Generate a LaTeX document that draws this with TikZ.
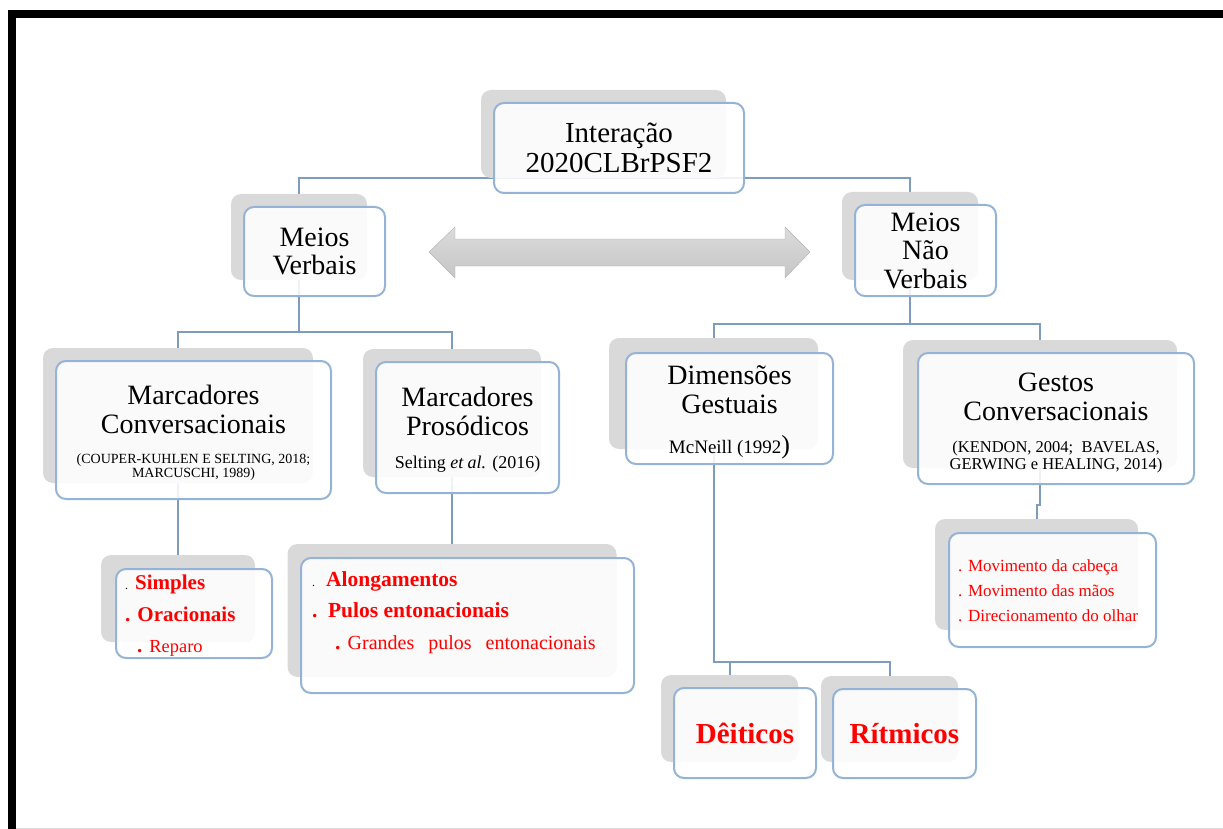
\documentclass[tikz,border=0pt]{standalone}
\usepackage{fontspec}
\setmainfont{Liberation Serif}
\usetikzlibrary{backgrounds}
\definecolor{shadegray}{HTML}{D9D9D9}
\definecolor{boxline}{HTML}{95B3D7}
\definecolor{linkline}{HTML}{7D9CBE}

\newcommand{\fs}[2]{\fontsize{#1}{#2}\selectfont}

\tikzset{
  backcard/.style={fill=shadegray, rounded corners=10pt, inner sep=0pt},
  card/.style={draw=boxline, line width=2pt, rounded corners=10pt, fill=white,
    fill opacity=0.87, text opacity=1, align=center, inner sep=0pt},
  cardtext/.style={align=center, inner sep=0pt},
  link/.style={draw=linkline, line width=2pt},
  item/.style={anchor=base west, inner sep=0pt, text=red},
}

\begin{document}
\begin{tikzpicture}[x=1pt, y=-1pt]
  \useasboundingbox (0,0) rectangle (1223,829);

  % black frame, top and left
  \fill[black] (8,10) rectangle (1223,18);
  \fill[black] (8,10) rectangle (16,829);
  \draw[gray!30] (16,828) -- (1223,828);

  % gray cards behind every box
  \foreach \name/\cx/\cy/\w/\h in {inter/603.5/134/245/88, verb/299/237/136/86,
      naov/910/236/136/88, mconv/178/415.5/270/135, mpros/452/413/178/128,
      dim/713.5/393.5/209/111, gest/1040/404/274/128, sim/178/598.5/154/87,
      along/452/610.5/329/133, dei/729.5/718.5/137/87, rit/889.5/719/137/86,
      mov/1036.5/574.5/203/111} {
    \node[backcard, minimum width=\w pt, minimum height=\h pt] (\name-sh) at (\cx,\cy) {};
  }

  % tree lines
  \begin{scope}[on background layer]
    \draw[link] (verb-sh.north) |- (inter-sh.south) -| (naov-sh.north);
    \draw[link] (verb-sh.south) -- ++(0,52) -| (mconv-sh.north);
    \draw[link] (verb-sh.south) -- ++(0,52) -| (mpros-sh.north);
    \draw[link] (naov-sh.south) -- ++(0,44) -| (dim-sh.north);
    \draw[link] (naov-sh.south) -- ++(0,44) -| (gest-sh.north);
    \draw[link] (mconv-sh.south) -- (sim-sh.north);
    \draw[link] (mpros-sh.south) -- (along-sh.north);
    \draw[link] (gest-sh.south) -- ++(0,37) -| (mov-sh.north);
    \draw[link] (dim-sh.south) -- ++(0,213) -| (rit-sh.north);
    \draw[link] (dim-sh.south) -- ++(0,213) -| (dei-sh.north);
  \end{scope}

  % double arrow between the two sides
  \path[draw=gray!60, top color=gray!28, bottom color=gray!45]
    (429,252) -- (455,227) -- (455,239) -- (785,239) -- (785,227) -- (810,252)
    -- (785,278) -- (785,266) -- (455,266) -- (455,278) -- cycle;

  % boxes
  \node[card, minimum width=250pt, minimum height=90pt, font=\fs{29}{30}] (inter) at (619,148) {Interação\\2020CLBrPSF2};
  \node[card, minimum width=141pt, minimum height=89pt, font=\fs{28}{28.5}] (verb) at (314.5,251.5) {Meios\\Verbais};
  \node[card, minimum width=141pt, minimum height=91pt, font=\fs{28}{28.5}] (naov) at (925.5,250.5) {Meios\\Não\\Verbais};

  \node[card, minimum width=275pt, minimum height=138pt] (mconv) at (193.5,430) {};
  \node[card, minimum width=183pt, minimum height=131pt] (mpros) at (467.5,427.5) {};
  \node[card, minimum width=207pt, minimum height=111pt] (dim) at (729.5,408.5) {};
  \node[card, minimum width=276pt, minimum height=131pt] (gest) at (1056,418.5) {};

  \node[card, minimum width=156pt, minimum height=89pt] (sim) at (194,613.5) {};
  \node[card, minimum width=333pt, minimum height=135pt] (along) at (467.5,625.5) {};
  \node[card, minimum width=207pt, minimum height=114pt] (mov) at (1052.5,590) {};
  \node[card, minimum width=142pt, minimum height=90pt, font=\fs{29}{30}\bfseries, text=red] (dei) at (745,733) {Dêiticos};
  \node[card, minimum width=143pt, minimum height=89pt, font=\fs{29}{30}\bfseries, text=red] (rit) at (904.5,733.5) {Rítmicos};

  % titles with their references
  \node[cardtext, font=\fs{28}{29}] (mconv-t) at (193.5,433)
    {Marcadores\\Conversacionais\\[1pt]{\fs{14}{13.3}\begin{tabular}[t]{@{}c@{}}(COUPER-KUHLEN E SELTING, 2018;\\MARCUSCHI, 1989)\end{tabular}}};
  \node[cardtext, font=\fs{28}{29}] (mpros-t) at (467.5,429.5)
    {Marcadores\\Prosódicos\\[4pt]{\fs{18}{20}Selting \textit{et al.} (2016)}};
  \node[cardtext, font=\fs{28}{29}] (dim-t) at (729.5,412)
    {Dimensões\\Gestuais\\[11pt]{\fs{19}{20}McNeill (1992}{\fs{26}{27})}};
  \node[cardtext, font=\fs{28}{29.3}] (gest-t) at (1056,423.5)
    {Gestos\\Conversacionais\\[3pt]{\fs{16.5}{16.7}\begin{tabular}[t]{@{}c@{}}(KENDON, 2004;\ \ BAVELAS,\\GERWING e HEALING,\ 2014)\end{tabular}}};

  % list entries
  \node[item, font=\fs{21}{24}] (sim1) at (125,589) {{\color{black}\fs{12}{14}.} \textbf{Simples}};
  \node[item, font=\fs{21}{24}] (sim2) at (125,621) {\textbf{. Oracionais}};
  \node[item, font=\fs{21}{24}] (sim3) at (137,652) {\textbf{.} {\fs{18.4}{20}Reparo}};

  \node[item, font=\fs{21.5}{24}] (along1) at (312,586) {{\color{black}\fs{12}{14}.}\hspace{11pt}\textbf{Alongamentos}};
  \node[item, font=\fs{21.5}{24}] (along2) at (312,617) {\textbf{.}\hspace{10.5pt}\textbf{Pulos entonacionais}};
  \node[item, font=\fs{21.5}{24}] (along3) at (335,649) {\textbf{.} {\fs{20}{22}Grandes\hspace{14pt}pulos\hspace{14pt}entonacionais}};

  \foreach \txt [count=\i] in {Movimento da cabeça, Movimento das mãos, Direcionamento do olhar} {
    \node[item, font=\fs{17}{20}] (mov\i) at (958,{546+25*\i}) {. \txt};
  }
\end{tikzpicture}
\end{document}
